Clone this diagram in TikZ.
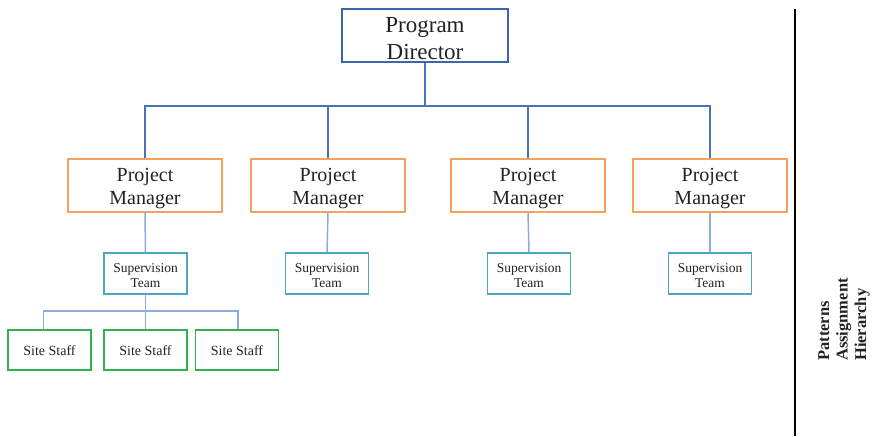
\documentclass[tikz,border=0pt]{standalone}
\usepackage{fontspec}
\setmainfont{Liberation Serif}
\definecolor{dirblue}{RGB}{58,102,176}
\definecolor{busblue}{RGB}{74,114,184}
\definecolor{linkblue}{RGB}{143,170,220}
\definecolor{mgrorange}{RGB}{245,162,93}
\definecolor{supteal}{RGB}{75,168,194}
\definecolor{staffgreen}{RGB}{52,176,80}
\definecolor{txt}{RGB}{34,34,34}
\tikzset{
  box/.style={draw, line width=1.8pt, inner sep=0pt},
  boxtext/.style={inner sep=0pt, align=center, text=txt},
  director/.style={box, draw=dirblue, minimum width=166pt, minimum height=53pt},
  dirtext/.style={boxtext, yshift=-3pt, font=\fontsize{23}{27}\selectfont},
  manager/.style={box, draw=mgrorange, minimum width=154pt, minimum height=53pt},
  mgrtext/.style={boxtext, yshift=-3pt, font=\fontsize{20}{23.5}\selectfont},
  supervision/.style={box, draw=supteal, minimum width=83pt, minimum height=41pt},
  suptext/.style={boxtext, yshift=-2pt, font=\fontsize{13.5}{15.5}\selectfont},
  staff/.style={box, draw=staffgreen, minimum width=83pt, minimum height=40pt},
  stafftext/.style={boxtext, yshift=-1pt, font=\fontsize{14}{16}\selectfont},
  mainlink/.style={draw=busblue, line width=1.8pt},
  sublink/.style={draw=linkblue, line width=1.5pt},
}
\begin{document}
\begin{tikzpicture}[x=1pt, y=-1pt]
\path[use as bounding box] (0,0) rectangle (874,436);

% top of the hierarchy
\node[director, label={[dirtext]center:Program\\Director}] (pd) at (425,35.5) {};

% project managers
\node[manager, label={[mgrtext]center:Project\\Manager}] (pm1) at (145,185.5) {};
\node[manager, label={[mgrtext]center:Project\\Manager}] (pm2) at (328,185.5) {};
\node[manager, label={[mgrtext]center:Project\\Manager}] (pm3) at (528,185.5) {};
\node[manager, label={[mgrtext]center:Project\\Manager}] (pm4) at (710,185.5) {};

% supervision teams
\node[supervision, label={[suptext]center:Supervision\\Team}] (sv1) at (145.5,273.5) {};
\node[supervision, label={[suptext]center:Supervision\\Team}] (sv2) at (327,273.5) {};
\node[supervision, label={[suptext]center:Supervision\\Team}] (sv3) at (529,273.5) {};
\node[supervision, label={[suptext]center:Supervision\\Team}] (sv4) at (710,273.5) {};

% site staff under the first team
\node[staff, label={[stafftext]center:Site Staff}] (ss1) at (49.5,350) {};
\node[staff, label={[stafftext]center:Site Staff}] (ss2) at (145.5,350) {};
\node[staff, label={[stafftext]center:Site Staff}] (ss3) at (237,350) {};

% director to managers
\coordinate (bus) at (425,106);
\path[mainlink] (pd.south) -- (bus);
\path[mainlink] (pm1.north) |- (bus) -| (pm4.north);
\path[mainlink] (pm2.north) -- (pm2.north |- bus);
\path[mainlink] (pm3.north) -- (pm3.north |- bus);

% managers to supervision teams
\path[sublink] (pm1.south) -- (sv1.north);
\path[sublink] (pm2.south) -- (sv2.north);
\path[sublink] (pm3.south) -- (sv3.north);
\path[sublink] (pm4.south) -- (sv4.north);

% supervision team to site staff
\coordinate (sbus) at (145.5,311);
\path[sublink] (sv1.south) -- (ss2.north);
\path[sublink] ([xshift=-6pt]ss1.north) |- (sbus) -| ([xshift=1pt]ss3.north);

% side divider and caption
\coordinate (divtop) at (795,9);
\coordinate (divbot) at (795,436);
\draw[line width=2pt, black] (divtop) -- (divbot);
\node[rotate=90, anchor=west, inner sep=0pt, align=left, text=txt,
      font=\fontsize{16.5}{18.5}\selectfont\bfseries] (cap) at (844,361)
  {Patterns\\Assignment\\Hierarchy};
\end{tikzpicture}
\end{document}
